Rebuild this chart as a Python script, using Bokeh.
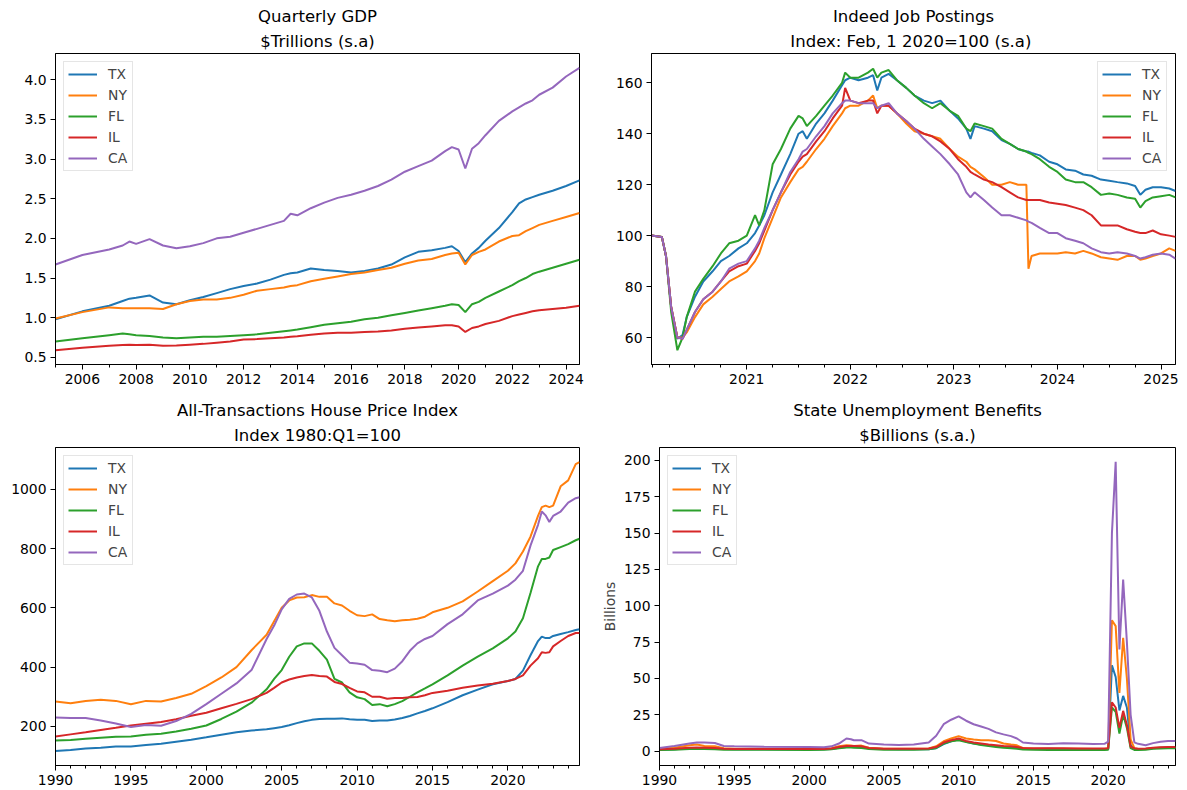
from bokeh.plotting import figure
from bokeh.models import Title, FixedTicker, PrintfTickFormatter, Range1d
from bokeh.layouts import column, row
from bokeh.embed import file_html
from bokeh.resources import INLINE

STATES = ["TX", "NY", "FL", "IL", "CA"]
COLORS = {"TX": "#1f77b4", "NY": "#ff7f0e", "FL": "#2ca02c", "IL": "#d62728", "CA": "#9467bd"}

# ---------------- Quarterly GDP ($ trillions) ----------------
gdp_x = [2005.0, 2006.0, 2007.0, 2007.5, 2007.75, 2008.0, 2008.5, 2009.0, 2009.5, 2010.0, 2010.5,
         2011.0, 2011.5, 2012.0, 2012.5, 2013.0, 2013.5, 2013.75, 2014.0, 2014.5, 2015.0, 2015.5,
         2016.0, 2016.5, 2017.0, 2017.5, 2018.0, 2018.5, 2019.0, 2019.5, 2019.75, 2020.0, 2020.25,
         2020.5, 2020.75, 2021.0, 2021.5, 2022.0, 2022.25, 2022.5, 2022.75, 2023.0, 2023.5, 2024.0, 2024.5]
gdp_tx = [0.98, 1.08, 1.15, 1.21, 1.24, 1.25, 1.28, 1.19, 1.17, 1.22, 1.26, 1.31, 1.36, 1.40, 1.43,
          1.48, 1.54, 1.56, 1.57, 1.62, 1.60, 1.59, 1.57, 1.59, 1.62, 1.67, 1.76, 1.83, 1.85, 1.88,
          1.90, 1.84, 1.70, 1.81, 1.88, 1.97, 2.13, 2.33, 2.44, 2.49, 2.52, 2.55, 2.60, 2.66, 2.73]
gdp_ny = [0.99, 1.07, 1.13, 1.12, 1.12, 1.12, 1.12, 1.11, 1.17, 1.21, 1.23, 1.23, 1.25, 1.29, 1.34,
          1.36, 1.38, 1.40, 1.41, 1.46, 1.49, 1.52, 1.55, 1.57, 1.60, 1.63, 1.68, 1.72, 1.74, 1.79,
          1.81, 1.82, 1.67, 1.79, 1.83, 1.86, 1.96, 2.03, 2.04, 2.09, 2.13, 2.17, 2.22, 2.27, 2.32]
gdp_fl = [0.70, 0.74, 0.78, 0.80, 0.79, 0.78, 0.77, 0.75, 0.74, 0.75, 0.76, 0.76, 0.77, 0.78, 0.79,
          0.81, 0.83, 0.84, 0.85, 0.88, 0.91, 0.93, 0.95, 0.98, 1.00, 1.03, 1.06, 1.09, 1.12, 1.15,
          1.17, 1.16, 1.07, 1.17, 1.20, 1.25, 1.33, 1.41, 1.46, 1.50, 1.55, 1.58, 1.63, 1.68, 1.73]
gdp_il = [0.59, 0.62, 0.645, 0.655, 0.66, 0.655, 0.66, 0.645, 0.65, 0.66, 0.67, 0.685, 0.70, 0.725, 0.73,
          0.74, 0.75, 0.76, 0.765, 0.785, 0.80, 0.81, 0.81, 0.82, 0.825, 0.84, 0.86, 0.875, 0.89, 0.905,
          0.905, 0.89, 0.82, 0.87, 0.89, 0.92, 0.96, 1.02, 1.04, 1.06, 1.08, 1.095, 1.11, 1.125, 1.15]
gdp_ca = [1.67, 1.79, 1.86, 1.91, 1.96, 1.93, 1.99, 1.91, 1.875, 1.90, 1.94, 2.00, 2.02, 2.07, 2.12,
          2.17, 2.22, 2.31, 2.29, 2.38, 2.45, 2.51, 2.55, 2.60, 2.66, 2.74, 2.84, 2.91, 2.98, 3.10,
          3.15, 3.12, 2.88, 3.13, 3.20, 3.30, 3.48, 3.60, 3.65, 3.70, 3.74, 3.81, 3.90, 4.04, 4.15]

# ---------------- Indeed job postings (index, Feb 1 2020 = 100) ----------------
ind_x = [2020.08, 2020.18, 2020.22, 2020.27, 2020.33, 2020.38, 2020.42, 2020.5, 2020.58, 2020.67,
         2020.75, 2020.83, 2020.92, 2021.0,
         2021.08, 2021.12, 2021.17, 2021.25, 2021.33, 2021.42, 2021.5, 2021.54, 2021.58, 2021.67,
         2021.75, 2021.83, 2021.92, 2021.95,
         2022.0, 2022.08, 2022.17, 2022.22, 2022.26, 2022.3, 2022.37, 2022.45, 2022.54, 2022.62,
         2022.71, 2022.79, 2022.87, 2022.96,
         2023.04, 2023.12, 2023.16, 2023.2, 2023.29, 2023.37, 2023.46, 2023.54, 2023.62, 2023.7,
         2023.72, 2023.75, 2023.83, 2023.92,
         2024.0, 2024.08, 2024.17, 2024.25, 2024.33, 2024.42, 2024.5, 2024.58, 2024.67, 2024.75,
         2024.8, 2024.85, 2024.92, 2025.0, 2025.08, 2025.14]
ind_tx = [100, 99.5, 92, 72, 59.5, 61, 68, 76, 82, 86, 90, 92, 95, 97,
          101, 104, 108, 117, 124, 132, 140, 141, 138, 144, 148, 153, 159, 161,
          162, 161, 162, 163, 157, 162, 163.5, 161, 158, 155, 153, 152, 153, 149,
          146, 142, 138, 143, 142, 141, 137.5, 136, 134, 133, 133, 132.5, 131.5, 129,
          128, 126, 125.5, 124, 123.5, 122, 121.5, 121, 120.5, 119.5, 116, 118, 119, 119, 118.5, 117.5]
ind_ny = [100, 99.5, 92, 72, 60, 60, 62, 68, 73, 76, 79, 82, 84, 86,
          90, 93, 99, 107, 115, 121, 126, 127, 129, 134, 138, 143, 148, 150,
          151, 151, 153, 155, 150, 151, 151, 148, 144, 141, 140, 139, 138, 134,
          131, 129, 127, 126, 123, 120, 120, 121, 120, 120, 87, 92, 93, 93,
          93, 93.5, 93, 94, 93, 91.5, 91, 90.5, 92, 92, 90.5, 91, 92, 93, 95, 94]
ind_fl = [100, 99.5, 92, 70, 55, 60, 68, 78, 83, 88, 93, 97, 98, 100,
          108, 104, 110, 128, 134, 142, 147, 146, 143, 147, 151, 155, 160, 164,
          162, 162, 164, 165.5, 162, 164, 165, 161, 158, 155, 152, 150, 152, 149,
          147, 142, 141, 144, 143, 142, 138, 136, 134, 133, 132.5, 132, 130, 127,
          125, 122, 121, 121, 119, 116, 116.5, 116, 115, 114.5, 111, 113.5, 115, 115.5, 116, 115]
ind_il = [100, 99.5, 92, 72, 60, 59.5, 63, 70, 75, 78, 82, 86, 88, 89,
          94, 97, 102, 110, 117, 124, 129, 131, 132, 137, 141, 146, 151, 158,
          153, 152, 153, 153, 148, 151, 151, 148, 145, 142, 140, 139, 137, 134,
          130, 127, 125, 124, 122, 121, 119, 117, 115, 114, 114, 114, 114, 113,
          112.5, 112, 111, 110, 108, 104, 104, 104, 102.5, 101.5, 101, 101, 102, 100.5, 100, 99.5]
ind_ca = [100, 99.5, 92, 72, 60, 59.5, 63, 70, 75, 78, 82, 87, 89, 90,
          95, 98, 103, 110, 117, 125, 130, 133, 134, 139, 143, 148, 152, 153,
          153, 152, 152, 152, 150, 151, 152, 148, 145, 142, 138, 135, 132, 128,
          124, 117, 115, 117, 114, 111, 108, 108, 107, 106, 105.5, 105, 103, 101,
          101, 99, 98, 97, 95, 93.5, 93, 93.5, 93, 92, 91, 91.5, 92.5, 93, 92.5, 91]

# ---------------- All-transactions house price index ----------------
hpi_x = [1990, 1991, 1992, 1993, 1994, 1995, 1996, 1997, 1998, 1999, 2000, 2001, 2002, 2003, 2004,
         2004.5, 2005, 2005.5, 2006, 2006.5, 2007, 2007.5, 2008, 2008.5, 2009, 2009.5, 2010, 2010.5,
         2011, 2011.5, 2012, 2012.5, 2013, 2013.5, 2014, 2014.5, 2015, 2016, 2017, 2018, 2019, 2020,
         2020.5, 2021, 2021.5, 2022, 2022.25, 2022.5, 2022.75, 2023, 2023.5, 2024, 2024.5, 2024.75]
hpi_tx = [117, 120, 125, 128, 132, 132, 137, 141, 148, 155, 163, 172, 180, 186, 190,
          194, 198, 204, 211, 217, 222, 225, 226, 226, 227, 224, 222, 222, 218, 220, 220, 223, 228, 235,
          244, 252, 261, 282, 305, 324, 342, 353, 360, 388, 440, 488, 503, 498, 498, 505, 512, 518, 525, 528]
hpi_ny = [284, 278, 286, 290, 286, 275, 286, 284, 296, 310, 336, 365, 400, 457, 509,
          555, 600, 625, 635, 636, 643, 637, 637, 615, 608, 590, 575, 572, 578, 562, 558, 555, 558, 560,
          563, 570, 585, 600, 622, 655, 690, 725, 750, 790, 840, 910, 940, 945, 940, 945, 1010, 1030, 1085, 1092]
hpi_fl = [152, 154, 158, 162, 165, 166, 172, 175, 183, 192, 203, 225, 250, 280, 325,
          360, 390, 435, 470, 480, 480, 455, 425, 360, 348, 315, 298, 292, 272, 275, 268, 275, 285, 300,
          315, 328, 342, 372, 405, 435, 463, 497, 520, 565, 650, 740, 765, 765, 770, 795, 805, 815, 828, 833]
hpi_il = [166, 173, 180, 188, 195, 203, 209, 215, 224, 236, 246, 261, 276, 292, 313,
          330, 348, 358, 365, 370, 373, 370, 368, 350, 343, 330, 318, 315, 300, 300, 293, 296, 296, 298,
          299, 305, 313, 320, 330, 338, 344, 353, 360, 372, 405, 430, 450, 448, 450, 470, 488, 505, 515, 515]
hpi_ca = [230, 228, 228, 220, 210, 198, 205, 202, 218, 242, 275, 310, 345, 390, 495,
          540, 595, 630, 645, 648, 635, 590, 520, 465, 440, 415, 412, 408, 390, 388, 383, 395, 420, 455,
          480, 495, 505, 545, 578, 625, 648, 675, 695, 725, 810, 880, 925, 912, 890, 910, 925, 955, 970, 973]

# ---------------- State unemployment benefits ($ billions) ----------------
ui_x = [1990, 1991, 1992, 1992.5, 1993, 1993.7, 1994.3, 1995, 1997, 2000,
        2001, 2001.5, 2002, 2002.5, 2002.8, 2003, 2003.5, 2004, 2005, 2006,
        2007, 2008, 2008.5, 2009, 2009.5, 2010, 2010.5, 2011, 2011.5, 2012,
        2012.5, 2013, 2013.5, 2013.9, 2014.3, 2015, 2016, 2017, 2018, 2019,
        2019.75, 2020.0, 2020.25, 2020.5, 2020.75, 2021.0, 2021.25, 2021.5, 2021.75, 2022,
        2022.5, 2023, 2023.5, 2024, 2024.5]
ui_tx = [0.9, 1.2, 2.0, 2.1, 2.0, 1.8, 1.4, 1.3, 1.2, 1.1,
         1.2, 1.5, 2.3, 2.8, 2.8, 2.8, 2.7, 1.9, 1.4, 1.2,
         1.2, 1.3, 2.0, 4.8, 6.8, 8.2, 6.5, 5.2, 4.5, 4.0,
         3.4, 3.0, 2.8, 2.4, 1.6, 1.4, 1.6, 1.5, 1.3, 1.3,
         1.3, 1.5, 59, 51, 28, 38, 30, 4, 1.5, 1.3,
         1.4, 2.0, 2.3, 2.5, 2.5]
ui_ny = [1.6, 2.3, 4.0, 4.5, 3.5, 3.3, 1.9, 1.6, 1.6, 1.6,
         1.6, 2.0, 3.3, 4.0, 3.8, 3.5, 3.8, 2.3, 1.6, 1.6,
         1.6, 1.8, 3.3, 6.8, 8.7, 10.3, 8.7, 8.0, 7.5, 7.5,
         7.0, 5.2, 4.5, 4.0, 2.1, 1.6, 1.6, 1.6, 1.6, 1.5,
         1.5, 2.0, 90, 86, 40, 78, 50, 8, 2, 1.5,
         1.5, 2.2, 2.3, 2.3, 2.3]
ui_fl = [0.7, 1.0, 1.5, 1.6, 1.5, 1.3, 1.0, 0.9, 0.9, 0.8,
         0.9, 1.2, 2.0, 2.4, 2.4, 2.3, 2.2, 1.5, 1.0, 0.9,
         1.0, 1.2, 2.2, 5.2, 6.8, 7.5, 6.3, 5.2, 4.2, 3.5,
         2.9, 2.3, 2.0, 1.7, 1.1, 0.9, 0.8, 0.8, 0.7, 0.7,
         0.7, 1.0, 30, 27, 12, 25, 16, 2, 0.8, 0.8,
         1.0, 1.6, 1.8, 2.0, 2.0]
ui_il = [1.2, 1.7, 2.3, 2.4, 2.3, 2.1, 1.6, 1.4, 1.4, 1.4,
         1.4, 1.8, 2.8, 3.5, 3.5, 3.5, 3.3, 2.1, 1.6, 1.6,
         1.6, 1.8, 2.8, 5.9, 7.5, 8.7, 7.0, 5.9, 5.2, 4.5,
         4.0, 3.5, 3.3, 2.8, 2.1, 1.9, 1.9, 1.9, 1.8, 1.8,
         1.8, 2.0, 33.5, 30, 16, 27.7, 18, 3, 2, 1.6,
         1.8, 2.3, 2.6, 2.8, 2.8]
ui_ca = [2.1, 3.5, 5.2, 5.9, 5.9, 5.6, 3.5, 3.3, 3.0, 2.8,
         2.6, 3.3, 5.2, 8.7, 8.2, 7.5, 7.5, 5.2, 4.5, 4.2,
         4.5, 5.9, 10.6, 18.5, 21.6, 23.9, 20.9, 18.5, 16.9, 15.3,
         12.9, 11.5, 10.3, 8.7, 5.9, 5.2, 4.9, 5.4, 5.2, 4.9,
         5.0, 6.5, 150, 199, 70, 118, 75, 25, 6, 5,
         4, 5.5, 6.5, 7, 7]

# tick positions
gdp_major = [2006, 2008, 2010, 2012, 2014, 2016, 2018, 2020, 2022, 2024]
gdp_minor = list(range(2005, 2025))
gdp_yticks = [0.5, 1.0, 1.5, 2.0, 2.5, 3.0, 3.5, 4.0]
ind_major = [2021, 2022, 2023, 2024, 2025]
ind_minor = [2020.085, 2020.25, 2020.5, 2020.75, 2021.25, 2021.5, 2021.75, 2022.25, 2022.5, 2022.75,
             2023.25, 2023.5, 2023.75, 2024.25, 2024.5, 2024.75]
ind_yticks = [60, 80, 100, 120, 140, 160]
long_major = [1990, 1995, 2000, 2005, 2010, 2015, 2020]
long_minor = list(range(1990, 2025))
hpi_yticks = [200, 400, 600, 800, 1000]
ui_yticks = [0, 25, 50, 75, 100, 125, 150, 175, 200]

FONT = "DejaVu Sans"


def make_fig(w, h, left, right, top, bottom, xr, yr, t1, t2):
    p = figure(width=w, height=h, output_backend="svg", toolbar_location=None,
               x_range=Range1d(*xr), y_range=Range1d(*yr),
               min_border_left=left, min_border_right=right,
               min_border_top=top, min_border_bottom=bottom)
    p.title.visible = False
    p.add_layout(Title(text=t2, align="center", text_font=FONT, text_font_size="16.5px",
                       text_font_style="normal", text_color="black", standoff=6), "above")
    p.add_layout(Title(text=t1, align="center", text_font=FONT, text_font_size="16.5px",
                       text_font_style="normal", text_color="black", standoff=1), "above")
    p.grid.visible = False
    p.outline_line_color = "black"
    p.outline_line_alpha = 1
    p.outline_line_width = 1
    p.background_fill_color = "white"
    p.border_fill_color = "white"
    for ax in (p.xaxis[0], p.yaxis[0]):
        ax.major_label_text_font = FONT
        ax.major_label_text_font_size = "13.9px"
        ax.major_label_text_color = "black"
        ax.axis_line_color = "black"
        ax.major_tick_line_color = "black"
        ax.minor_tick_line_color = "black"
        ax.major_tick_in = 0
        ax.major_tick_out = 5
        ax.minor_tick_in = 0
        ax.minor_tick_out = 3
        ax.major_label_standoff = 4
    return p


def add_lines(p, x, series, loc):
    for s in STATES:
        p.line(x, series[s], line_color=COLORS[s], line_width=2, legend_label=s)
    lg = p.legend[0]
    lg.location = loc
    lg.label_text_font = FONT
    lg.label_text_font_size = "13.9px"
    lg.label_height = 16
    lg.glyph_height = 16
    lg.glyph_width = 29
    lg.spacing = 5
    lg.padding = 4
    lg.margin = 8
    lg.label_standoff = 11
    lg.border_line_color = "#cccccc"
    lg.border_line_width = 1
    lg.background_fill_alpha = 0.8


# Figure 1: GDP
p1 = make_fig(598, 398, 55, 19, 53, 34, (2005.0, 2024.5), (0.41, 4.33),
              "Quarterly GDP", "$Trillions (s.a)")
add_lines(p1, gdp_x, {"TX": gdp_tx, "NY": gdp_ny, "FL": gdp_fl, "IL": gdp_il, "CA": gdp_ca}, "top_left")
p1.xaxis[0].ticker = FixedTicker(ticks=gdp_major, minor_ticks=gdp_minor)
p1.xaxis[0].formatter = PrintfTickFormatter(format="%d")
p1.yaxis[0].ticker = FixedTicker(ticks=gdp_yticks)
p1.yaxis[0].formatter = PrintfTickFormatter(format="%.1f")

# Figure 2: Indeed
p2 = make_fig(587, 398, 53, 10, 53, 34, (2020.08, 2025.14), (49.4, 171.5),
              "Indeed Job Postings", "Index: Feb, 1 2020=100  (s.a)")
add_lines(p2, ind_x, {"TX": ind_tx, "NY": ind_ny, "FL": ind_fl, "IL": ind_il, "CA": ind_ca}, "top_right")
p2.xaxis[0].ticker = FixedTicker(ticks=ind_major, minor_ticks=ind_minor)
p2.xaxis[0].formatter = PrintfTickFormatter(format="%d")
p2.yaxis[0].ticker = FixedTicker(ticks=ind_yticks)
p2.yaxis[0].formatter = PrintfTickFormatter(format="%d")

# Figure 3: HPI
p3 = make_fig(598, 390, 55, 19, 49, 23, (1990, 2024.75), (68, 1141),
              "All-Transactions House Price Index", "Index 1980:Q1=100")
add_lines(p3, hpi_x, {"TX": hpi_tx, "NY": hpi_ny, "FL": hpi_fl, "IL": hpi_il, "CA": hpi_ca}, "top_left")
p3.xaxis[0].ticker = FixedTicker(ticks=long_major, minor_ticks=long_minor)
p3.xaxis[0].formatter = PrintfTickFormatter(format="%d")
p3.yaxis[0].ticker = FixedTicker(ticks=hpi_yticks)
p3.yaxis[0].formatter = PrintfTickFormatter(format="%d")

# Figure 4: Unemployment benefits
p4 = make_fig(587, 390, 53, 10, 49, 23, (1990, 2024.5), (-9.9, 208.9),
              "State Unemployment Benefits", "$Billions (s.a.)")
add_lines(p4, ui_x, {"TX": ui_tx, "NY": ui_ny, "FL": ui_fl, "IL": ui_il, "CA": ui_ca}, "top_left")
p4.xaxis[0].ticker = FixedTicker(ticks=long_major, minor_ticks=long_minor)
p4.xaxis[0].formatter = PrintfTickFormatter(format="%d")
p4.yaxis[0].ticker = FixedTicker(ticks=ui_yticks)
p4.yaxis[0].formatter = PrintfTickFormatter(format="%d")
p4.yaxis[0].axis_label = "Billions"
p4.yaxis[0].axis_label_text_font = FONT
p4.yaxis[0].axis_label_text_font_size = "13.9px"
p4.yaxis[0].axis_label_text_font_style = "normal"
p4.yaxis[0].axis_label_standoff = 3

layout = column(row(p1, p2), row(p3, p4))
open("out.html", "w").write(file_html(layout, INLINE))
